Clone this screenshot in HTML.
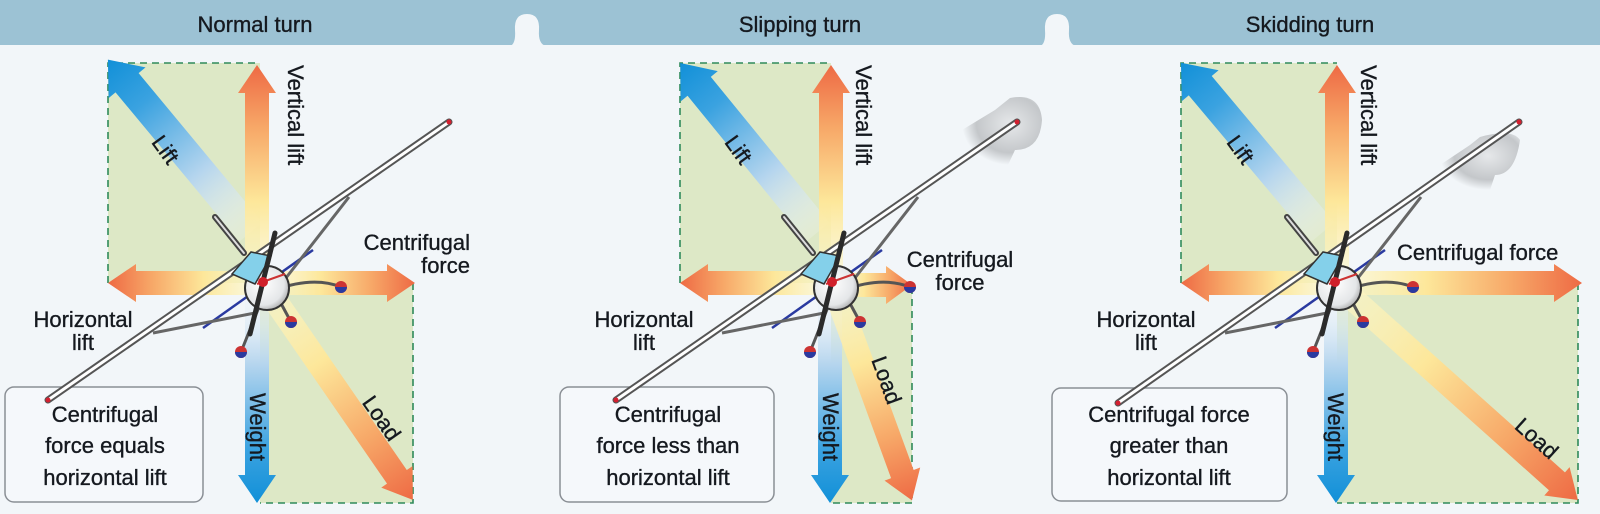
<!DOCTYPE html>
<html><head><meta charset="utf-8"><style>
html,body{margin:0;padding:0;background:#f2f6f9;}
svg{display:block;}
text{font-family:"Liberation Sans",Arial,sans-serif;fill:#15191f;stroke:#15191f;stroke-width:0.35;}
</style></head><body>
<svg width="1600" height="514" viewBox="0 0 1600 514" xmlns="http://www.w3.org/2000/svg">
<defs>
<linearGradient id="gb" x1="0" y1="0" x2="1" y2="0"><stop offset="0" stop-color="#f4f7fb" stop-opacity="0.2"/><stop offset="0.35" stop-color="#b5d5ee"/><stop offset="0.75" stop-color="#3aa2e0"/><stop offset="1" stop-color="#1190d8"/></linearGradient>
<linearGradient id="gw" x1="0" y1="0" x2="1" y2="0"><stop offset="0" stop-color="#fff8c8" stop-opacity="0.6"/><stop offset="0.35" stop-color="#fde79a"/><stop offset="0.7" stop-color="#f7a868"/><stop offset="1" stop-color="#ee6a44"/></linearGradient>
<radialGradient id="sm" cx="0.6" cy="0.4" r="0.6"><stop offset="0" stop-color="#e6e8ea"/><stop offset="0.7" stop-color="#c4c7ca"/><stop offset="1" stop-color="#c4c7ca" stop-opacity="0"/></radialGradient>
<radialGradient id="fus" cx="0.4" cy="0.4" r="0.7"><stop offset="0" stop-color="#ffffff"/><stop offset="0.7" stop-color="#e4e6e8"/><stop offset="1" stop-color="#999"/></radialGradient>
<g id="plane">
  <line x1="-60" y1="46" x2="50" y2="-32" stroke="#2a3aa0" stroke-width="2.5"/>
  <line x1="-110" y1="51" x2="-8" y2="31" stroke="#666" stroke-width="3"/>
  <line x1="86" y1="-85" x2="12" y2="10" stroke="#666" stroke-width="3"/>
  <line x1="-48" y1="-65" x2="-19" y2="-29" stroke="#444" stroke-width="6" stroke-linecap="round"/>
  <line x1="-48" y1="-65" x2="-19" y2="-29" stroke="#ddd" stroke-width="2" stroke-linecap="round"/>
  <path d="M12,8 Q50,-6 78,5" fill="none" stroke="#555" stroke-width="3"/>
  <line x1="14" y1="14" x2="28" y2="40" stroke="#555" stroke-width="3"/>
  <line x1="-2" y1="20" x2="-22" y2="70" stroke="#555" stroke-width="3"/>
  <circle cx="78" cy="5" r="6" fill="#c33"/><path d="M72,5 a6,6 0 0 0 12,0z" fill="#2a3aa0"/>
  <circle cx="28" cy="40" r="6" fill="#c33"/><path d="M22,40 a6,6 0 0 0 12,0z" fill="#2a3aa0"/>
  <circle cx="-22" cy="70" r="6" fill="#c33"/><path d="M-28,70 a6,6 0 0 0 12,0z" fill="#2a3aa0"/>
  <circle cx="4" cy="6" r="22" fill="url(#fus)" stroke="#333" stroke-width="2"/>
  <polygon points="-31,-8 -12,-30 8,-26 -8,2" fill="#84d0ea" stroke="#333" stroke-width="1.5"/>
  <line x1="-6" y1="2" x2="22" y2="-8" stroke="#c33" stroke-width="2"/>
  <line x1="12" y1="-49" x2="-13" y2="52" stroke="#2a2a2a" stroke-width="5" stroke-linecap="round"/>
  <circle cx="0" cy="0" r="5" fill="#d0202a"/>
</g>
</defs>

<rect x="0" y="0" width="1600" height="45" fill="#9cc2d4"/>
<path d="M510,46 Q516,44 515,30 Q514,14 527,14 Q540,14 539,30 Q538,44 546,46 Z" fill="#f2f6f9"/>
<path d="M1040,46 Q1046,44 1045,30 Q1044,14 1057,14 Q1070,14 1069,30 Q1068,44 1076,46 Z" fill="#f2f6f9"/>
<text x="255" y="32" font-size="22" text-anchor="middle">Normal turn</text>
<text x="800" y="32" font-size="22" text-anchor="middle">Slipping turn</text>
<text x="1310" y="32" font-size="22" text-anchor="middle">Skidding turn</text>

<g fill="#dde8c6">
<rect x="108" y="63" width="152" height="220"/><rect x="260" y="283" width="153" height="220"/>
<rect x="680" y="63" width="151" height="220"/><rect x="831" y="287" width="81" height="216"/>
<rect x="1181" y="63" width="156" height="220"/><rect x="1337" y="283" width="241" height="220"/>
</g>
<g fill="none" stroke="#2f8a5a" stroke-width="1.6" stroke-dasharray="7,5">
<polyline points="108,283 108,63 260,63"/><polyline points="413,283 413,503 260,503"/>
<polyline points="680,283 680,63 831,63"/><polyline points="912,287 912,503 831,503"/>
<polyline points="1181,283 1181,63 1337,63"/><polyline points="1578,283 1578,503 1337,503"/>
</g>

<polygon transform="translate(251,232) rotate(-129.7)" points="0,-15 194,-15 194,-24 224,0 194,24 194,15 0,15" fill="url(#gb)"/>
<polygon transform="translate(257,275) rotate(-90)" points="0,-12 182,-12 182,-19 210,0 182,19 182,12 0,12" fill="url(#gw)"/>
<polygon transform="translate(255,283) rotate(180)" points="0,-12 119,-12 119,-19 147,0 119,19 119,12 0,12" fill="url(#gw)"/>
<polygon transform="translate(270,283)" points="0,-12 117,-12 117,-19 145,0 117,19 117,12 0,12" fill="url(#gw)"/>
<polygon transform="translate(257,290) rotate(90)" points="0,-12 185,-12 185,-19 213,0 185,19 185,12 0,12" fill="url(#gb)"/>
<polygon transform="translate(268,290) rotate(55.4)" points="0,-12 227,-12 227,-19 255,0 227,19 227,12 0,12" fill="url(#gw)"/>
<polygon transform="translate(818,232) rotate(-129.2)" points="0,-15 188,-15 188,-24 218,0 188,24 188,15 0,15" fill="url(#gb)"/>
<polygon transform="translate(831,275) rotate(-90)" points="0,-12 182,-12 182,-19 210,0 182,19 182,12 0,12" fill="url(#gw)"/>
<polygon transform="translate(825,283) rotate(180)" points="0,-12 117,-12 117,-19 145,0 117,19 117,12 0,12" fill="url(#gw)"/>
<polygon transform="translate(838,285)" points="0,-12 48,-12 48,-19 74,0 48,19 48,12 0,12" fill="url(#gw)"/>
<polygon transform="translate(830,290) rotate(90)" points="0,-12 185,-12 185,-19 213,0 185,19 185,12 0,12" fill="url(#gb)"/>
<polygon transform="translate(835,290) rotate(69.9)" points="0,-12 196,-12 196,-19 224,0 196,19 196,12 0,12" fill="url(#gw)"/>
<polygon transform="translate(1323,232) rotate(-130)" points="0,-15 191,-15 191,-24 221,0 191,24 191,15 0,15" fill="url(#gb)"/>
<polygon transform="translate(1337,275) rotate(-90)" points="0,-12 182,-12 182,-19 210,0 182,19 182,12 0,12" fill="url(#gw)"/>
<polygon transform="translate(1330,283) rotate(180)" points="0,-12 121,-12 121,-19 149,0 121,19 121,12 0,12" fill="url(#gw)"/>
<polygon transform="translate(1343,283)" points="0,-12 211,-12 211,-19 239,0 211,19 211,12 0,12" fill="url(#gw)"/>
<polygon transform="translate(1336,290) rotate(90)" points="0,-12 185,-12 185,-19 213,0 185,19 185,12 0,12" fill="url(#gb)"/>
<polygon transform="translate(1343,290) rotate(41.8)" points="0,-12 287,-12 287,-19 315,0 287,19 287,12 0,12" fill="url(#gw)"/>

<path d="M962,130 L995,110 L1010,98 Q1040,92 1042,120 Q1040,150 1015,150 L1008,165 L975,160 Z" fill="url(#sm)"/>
<path d="M1440,165 L1470,145 L1480,137 Q1512,128 1520,140 Q1515,175 1495,175 L1490,190 L1455,188 Z" fill="url(#sm)"/>

<g fill="#f5f8fb" stroke="#8a8f95" stroke-width="1.5">
<rect x="5" y="387" width="198" height="115" rx="9"/>
<rect x="560" y="387" width="214" height="115" rx="9"/>
<rect x="1052" y="388" width="235" height="113" rx="9"/>
</g>

<g stroke-linecap="round">
<line x1="449" y1="122" x2="48" y2="400" stroke="#555" stroke-width="7"/><line x1="449" y1="122" x2="48" y2="400" stroke="#fff" stroke-width="3"/>
<line x1="1017" y1="122" x2="616" y2="400" stroke="#555" stroke-width="7"/><line x1="1017" y1="122" x2="616" y2="400" stroke="#fff" stroke-width="3"/>
<line x1="1519" y1="122" x2="1118" y2="403" stroke="#555" stroke-width="7"/><line x1="1519" y1="122" x2="1118" y2="403" stroke="#fff" stroke-width="3"/>
</g>
<g fill="#d42030"><circle cx="449" cy="122" r="2.5"/><circle cx="48" cy="400" r="2.5"/><circle cx="1017" cy="122" r="2.5"/><circle cx="616" cy="400" r="2.5"/><circle cx="1519" cy="122" r="2.5"/><circle cx="1118" cy="403" r="2.5"/></g>

<use href="#plane" transform="translate(263,282)"/>
<use href="#plane" transform="translate(832,282)"/>
<use href="#plane" transform="translate(1335,282)"/>

<g font-size="22" text-anchor="middle">
<text x="105" y="422">Centrifugal</text><text x="105" y="453">force equals</text><text x="105" y="485">horizontal lift</text>
<text x="668" y="422">Centrifugal</text><text x="668" y="453">force less than</text><text x="668" y="485">horizontal lift</text>
<text x="1169" y="422">Centrifugal force</text><text x="1169" y="453">greater than</text><text x="1169" y="485">horizontal lift</text>
</g>

<g font-size="22">
<text x="470" y="250" text-anchor="end">Centrifugal</text><text x="470" y="273" text-anchor="end">force</text>
<text x="83" y="327" text-anchor="middle">Horizontal</text><text x="83" y="350" text-anchor="middle">lift</text>
<text x="960" y="267" text-anchor="middle">Centrifugal</text><text x="960" y="290" text-anchor="middle">force</text>
<text x="644" y="327" text-anchor="middle">Horizontal</text><text x="644" y="350" text-anchor="middle">lift</text>
<text x="1397" y="260">Centrifugal force</text>
<text x="1146" y="327" text-anchor="middle">Horizontal</text><text x="1146" y="350" text-anchor="middle">lift</text>
<text transform="translate(165,150) rotate(54)" text-anchor="middle" dy="7">Lift</text>
<text transform="translate(738,150) rotate(54)" text-anchor="middle" dy="7">Lift</text>
<text transform="translate(1240,150) rotate(54)" text-anchor="middle" dy="7">Lift</text>
<text transform="translate(287,65) rotate(90)" dy="-1">Vertical lift</text>
<text transform="translate(855,65) rotate(90)" dy="-1">Vertical lift</text>
<text transform="translate(1360,65) rotate(90)" dy="-1">Vertical lift</text>
<text transform="translate(258,427) rotate(90)" text-anchor="middle" dy="8">Weight</text>
<text transform="translate(831,427) rotate(90)" text-anchor="middle" dy="8">Weight</text>
<text transform="translate(1336,427) rotate(90)" text-anchor="middle" dy="8">Weight</text>
<text transform="translate(382,418) rotate(55)" text-anchor="middle" dy="8">Load</text>
<text transform="translate(887,380) rotate(70)" text-anchor="middle" dy="8">Load</text>
<text transform="translate(1537,438) rotate(42)" text-anchor="middle" dy="8">Load</text>
</g>
</svg>
</body></html>
